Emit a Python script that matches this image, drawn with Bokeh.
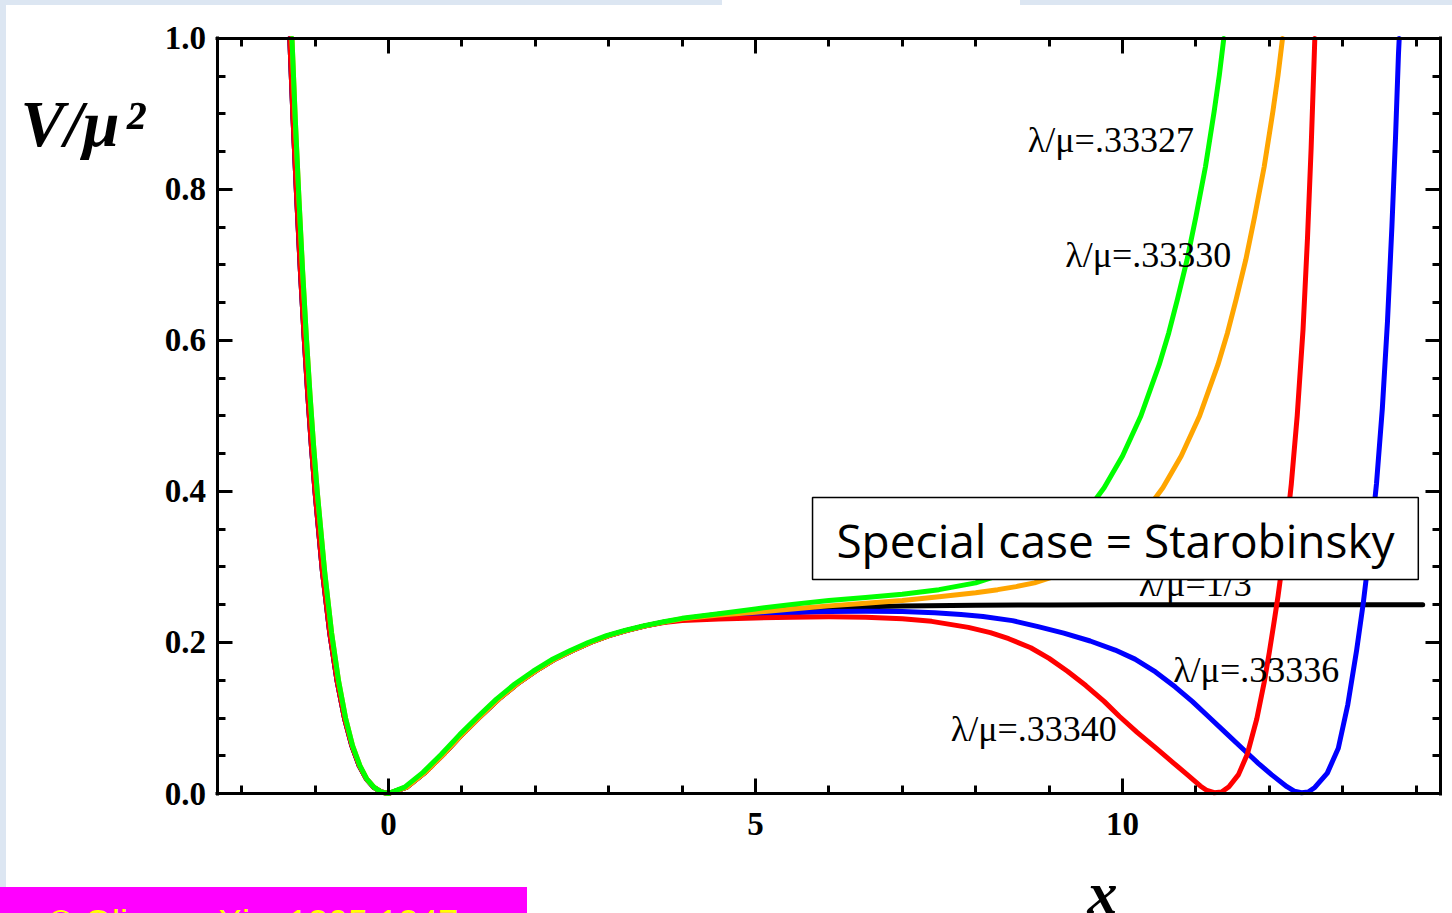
from bokeh.plotting import figure
from bokeh.models import FixedTicker, LinearAxis, BoxAnnotation, Label, ColumnDataSource
from bokeh.embed import file_html
from bokeh.resources import INLINE
from bokeh.core.properties import value

# ---------------- data ----------------
x_major_ticks = [0, 5, 10]
x_tick_labels = ["0", "5", "10"]
x_minor_ticks = [-2, -1, 1, 2, 3, 4, 6, 7, 8, 9, 11, 12, 13, 14]
y_major_ticks = [0.0, 0.2, 0.4, 0.6, 0.8, 1.0]
y_tick_labels = ["0.0", "0.2", "0.4", "0.6", "0.8", "1.0"]
y_minor_ticks = [0.05, 0.1, 0.15, 0.25, 0.3, 0.35, 0.45, 0.5, 0.55, 0.65, 0.7, 0.75, 0.85, 0.9, 0.95]
x_axis_span = (-2.3365, 14.3324)
y_axis_span = (0.0, 1.0)

# left wall (shared)
left_x_a = [-1.345, -1.30, -1.25, -1.20, -1.15, -1.10, -1.05, -1.00, -0.90, -0.80, -0.70, -0.60, -0.50, -0.40, -0.30, -0.20, -0.10, 0.00]
left_x_b = [-1.315, -1.27, -1.22, -1.17, -1.12, -1.07, -1.02, -0.97, -0.87, -0.775, -0.68, -0.585, -0.49, -0.39, -0.295, -0.195, -0.10, 0.00]
left_y = [1.000, 0.893, 0.788, 0.692, 0.606, 0.529, 0.460, 0.399, 0.294, 0.2125, 0.149, 0.100, 0.0635, 0.037, 0.019, 0.008, 0.002, 0.000]

# rise towards the plateau (shared)
rise_x_a = [0.25, 0.5, 0.75, 1.0, 1.25, 1.5, 1.75, 2.0, 2.25, 2.5, 2.75, 3.0, 3.25, 3.5]
rise_x_b = [0.22, 0.47, 0.72, 0.97, 1.22, 1.47, 1.72, 1.97, 2.22, 2.47, 2.72, 2.97, 3.22, 3.47]
rise_y = [0.0085, 0.028, 0.052, 0.078, 0.102, 0.125, 0.145, 0.162, 0.177, 0.189, 0.200, 0.209, 0.216, 0.222]

# tails
black_x = [3.75, 4.0, 4.5, 5.0, 5.5, 6.0, 7.0, 8.0, 9.0, 10.0, 12.0, 14.09]
black_y = [0.227, 0.231, 0.2375, 0.2417, 0.2445, 0.2463, 0.2484, 0.2493, 0.2497, 0.2499, 0.25, 0.25]

green_x = [3.75, 4.0, 4.5, 5.0, 5.5, 6.0, 6.5, 7.0, 7.5, 8.0, 8.25, 8.5, 8.75, 9.0, 9.25, 9.5, 9.75, 10.0, 10.25, 10.5, 10.63, 10.75, 10.88, 11.0, 11.13, 11.25, 11.32, 11.38]
green_y = [0.2275, 0.232, 0.238, 0.2445, 0.2505, 0.2555, 0.2595, 0.264, 0.270, 0.279, 0.287, 0.297, 0.3095, 0.3255, 0.346, 0.372, 0.405, 0.447, 0.50, 0.568, 0.61, 0.655, 0.707, 0.764, 0.83, 0.904, 0.952, 1.0]

orange_x = [3.75, 4.0, 4.5, 5.0, 5.5, 6.0, 6.5, 7.0, 7.5, 8.0, 8.3, 8.55, 8.8, 9.05, 9.3, 9.55, 9.8, 10.05, 10.3, 10.55, 10.8, 11.05, 11.3, 11.43, 11.55, 11.68, 11.8, 11.93, 12.05, 12.12, 12.18]
orange_y = [0.227, 0.2315, 0.2365, 0.240, 0.2445, 0.2485, 0.252, 0.2555, 0.2605, 0.266, 0.270, 0.274, 0.279, 0.287, 0.297, 0.3095, 0.3255, 0.346, 0.372, 0.405, 0.447, 0.50, 0.568, 0.61, 0.655, 0.707, 0.764, 0.83, 0.904, 0.952, 1.0]

red_x = [3.75, 4.0, 4.5, 5.0, 5.5, 6.0, 6.5, 7.0, 7.4, 7.9, 8.2, 8.45, 8.75, 9.0, 9.25, 9.5, 9.75, 9.96, 10.2, 10.47, 10.7, 10.87, 11.06, 11.15, 11.25, 11.35, 11.45, 11.58, 11.7, 11.83, 11.93, 12.0, 12.06, 12.12, 12.2, 12.3, 12.38, 12.46, 12.52, 12.57, 12.61, 12.62]
red_y = [0.2265, 0.229, 0.231, 0.2325, 0.2335, 0.234, 0.2335, 0.2315, 0.228, 0.220, 0.213, 0.205, 0.193, 0.179, 0.162, 0.143, 0.122, 0.102, 0.081, 0.059, 0.040, 0.026, 0.010, 0.004, 0.001, 0.002, 0.009, 0.025, 0.052, 0.099, 0.147, 0.187, 0.224, 0.262, 0.32, 0.41, 0.50, 0.615, 0.735, 0.855, 0.97, 1.0]

blue_x = [3.75, 4.0, 4.5, 5.0, 5.5, 6.0, 6.5, 7.0, 7.44, 7.8, 8.1, 8.5, 8.85, 9.2, 9.56, 9.9, 10.17, 10.45, 10.72, 10.95, 11.17, 11.4, 11.63, 11.85, 12.03, 12.24, 12.34, 12.44, 12.53, 12.62, 12.79, 12.94, 13.07, 13.19, 13.28, 13.37, 13.46, 13.54, 13.61, 13.67, 13.72, 13.76, 13.77]
blue_y = [0.227, 0.230, 0.2345, 0.2375, 0.2395, 0.241, 0.2415, 0.241, 0.2395, 0.237, 0.2345, 0.229, 0.221, 0.2125, 0.202, 0.19, 0.178, 0.161, 0.141, 0.122, 0.102, 0.081, 0.060, 0.040, 0.025, 0.009, 0.003, 0.001, 0.002, 0.008, 0.027, 0.06, 0.118, 0.19, 0.252, 0.325, 0.41, 0.51, 0.625, 0.75, 0.87, 0.98, 1.0]

label_texts = ["λ/μ=.33327", "λ/μ=.33330", "λ/μ=1/3", "λ/μ=.33336", "λ/μ=.33340"]
label_x = [8.71, 9.22, 10.22, 10.69, 7.66]
label_y = [0.865, 0.7126, 0.278, 0.163, 0.086]

box_text = "Special case = Starobinsky"
y_title = "V/μ\u200a²"
x_title = "x"
credit_text = "© Olive, arXiv: 1305.1247"

# ---------------- figure ----------------
# the frame fills the whole canvas; the axes sit at fixed locations so that the
# titles and the credit line below/left of the axes stay inside the drawing area
p = figure(width=1452, height=913, x_range=(-5.2861, 14.4959), y_range=(-0.15894, 1.05033),
           output_backend="svg", toolbar_location=None,
           min_border_left=0, min_border_right=0, min_border_top=0, min_border_bottom=0,
           x_axis_location=None, y_axis_location=None)
p.xgrid.visible = False
p.ygrid.visible = False
p.outline_line_color = None
p.background_fill_color = None
p.border_fill_color = None
p.styles = {"background": ("linear-gradient(#dce6f2,#dce6f2) 0px 0px/722px 5px no-repeat, "
                           "linear-gradient(#dce6f2,#dce6f2) 1020px 0px/432px 5px no-repeat, "
                           "linear-gradient(#dce6f2,#dce6f2) 0px 0px/6px 887px no-repeat, "
                           "linear-gradient(#ff00ff,#ff00ff) 0px 887px/527px 26px no-repeat, #ffffff")}

def frame_axis(ticker, loc, bounds, show_labels, standoff=0, overrides=None):
    ax = LinearAxis(ticker=ticker)
    if overrides:
        ax.major_label_overrides = overrides
    ax.fixed_location = loc
    ax.bounds = bounds
    ax.axis_line_width = 3
    ax.axis_line_color = "black"
    ax.major_tick_in = 15
    ax.major_tick_out = 0
    ax.minor_tick_in = 8
    ax.minor_tick_out = 0
    ax.major_tick_line_width = 3
    ax.minor_tick_line_width = 3
    ax.major_label_text_font = "Liberation Serif"
    ax.major_label_text_font_style = "bold"
    ax.major_label_text_font_size = "33px" if show_labels else "0px"
    ax.major_label_text_color = "black"
    ax.major_label_standoff = standoff
    return ax

xt = FixedTicker(ticks=x_major_ticks, minor_ticks=x_minor_ticks)
yt = FixedTicker(ticks=y_major_ticks, minor_ticks=y_minor_ticks)
xover = {t: l for t, l in zip(x_major_ticks, x_tick_labels)}
yover = {t: l for t, l in zip(y_major_ticks, y_tick_labels)}
xb = (x_axis_span[0] - 0.02, x_axis_span[1] + 0.02)
yb = (y_axis_span[0] - 0.002, y_axis_span[1] + 0.002)

p.add_layout(frame_axis(xt, y_axis_span[0], xb, True, 19, xover), "below")
p.add_layout(frame_axis(xt, y_axis_span[1], xb, False), "above")
p.add_layout(frame_axis(yt, x_axis_span[0], yb, True, 11, yover), "left")
p.add_layout(frame_axis(yt, x_axis_span[1], yb, False), "right")

def curve(xs, ys, color):
    p.line(xs, ys, line_color=color, line_width=5, line_join="round", line_cap="round")

curve(left_x_a + rise_x_a + black_x, left_y + rise_y + black_y, "black")
curve(left_x_a + rise_x_a + blue_x, left_y + rise_y + blue_y, "#0000ff")
curve(left_x_a + rise_x_a + red_x, left_y + rise_y + red_y, "#ff0000")
curve(left_x_b + rise_x_a + orange_x, left_y + rise_y + orange_y, "#ffa500")
curve(left_x_b + rise_x_b + green_x, left_y + rise_y + green_y, "#00ff00")

src = ColumnDataSource(dict(x=label_x, y=label_y, t=label_texts))
p.text(x="x", y="y", text="t", source=src, text_font=value("Liberation Serif"),
       text_font_size="36px", text_baseline="middle", text_align="left", text_color="black")

# Starobinsky box
p.add_layout(BoxAnnotation(left=5.777, right=14.03, bottom=0.2834, top=0.392,
                           fill_color="white", fill_alpha=1.0, line_color="black",
                           line_alpha=1.0, line_width=1.5))
p.add_layout(Label(x=9.905, y=0.336, text=box_text, text_align="center",
                   text_baseline="middle", text_font="Open Sans", text_font_size="46px", text_color="black"))

# axis titles and credit line
p.add_layout(Label(x=-5.014, y=0.8879, text=y_title, text_font="Liberation Serif",
                   text_font_style="bold italic", text_font_size="66px", text_baseline="middle",
                   text_color="black"))
p.add_layout(Label(x=9.523, y=-0.1313, text=x_title, text_font="Liberation Serif",
                   text_font_style="bold italic", text_font_size="60px", text_baseline="middle",
                   text_color="black"))
p.add_layout(Label(x=-4.646, y=-0.1719, text=credit_text, text_font="Liberation Sans",
                   text_font_size="36px", text_baseline="middle", text_color="#ffff00"))

open("out.html", "w").write(file_html(p, INLINE))
